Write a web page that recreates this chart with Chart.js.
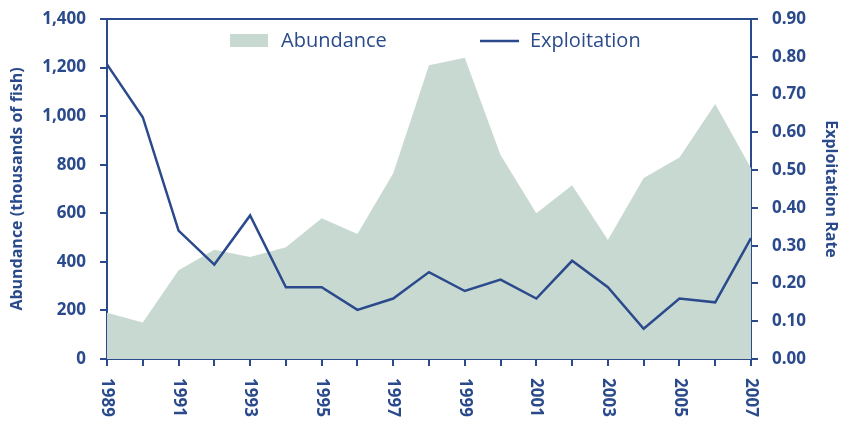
<!DOCTYPE html>
<html>
<head>
<meta charset="utf-8">
<script src="https://cdn.jsdelivr.net/npm/chart.js@4.4.1/dist/chart.umd.min.js"></script>
<style>
  html, body { margin: 0; padding: 0; background: #fff; }
  #wrap { width: 853px; height: 423px; }
</style>
</head>
<body>
<div id="wrap"><canvas id="chart"></canvas></div>
<script>
// data
const years = ['1989','1990','1991','1992','1993','1994','1995','1996','1997','1998',
               '1999','2000','2001','2002','2003','2004','2005','2006','2007'];
const abundance = [190, 150, 365, 450, 420, 460, 580, 515, 765, 1210,
                   1240, 840, 600, 715, 490, 745, 830, 1050, 785];
const exploitation = [0.78, 0.64, 0.34, 0.25, 0.38, 0.19, 0.19, 0.13, 0.16, 0.23,
                      0.18, 0.21, 0.16, 0.26, 0.19, 0.08, 0.16, 0.15, 0.32];
const yearLabels = ['1989','1991','1993','1995','1997','1999','2001','2003','2005','2007'];

const blue = '#2a4a8c';
const fillGreen = '#c8d9d2';
const font = "'Open Sans', 'DejaVu Sans', sans-serif";

// frame, rotated year labels and the in-plot legend
const extras = {
  id: 'extras',
  afterDraw(chart) {
    const ctx = chart.ctx;
    const a = chart.chartArea;
    const x = chart.scales.x;
    ctx.save();
    ctx.strokeStyle = blue;
    ctx.lineWidth = 2;
    ctx.beginPath();
    ctx.moveTo(a.left, a.top);
    ctx.lineTo(a.right, a.top);
    ctx.stroke();

    ctx.fillStyle = blue;
    ctx.font = 'bold 17px ' + font;
    ctx.textAlign = 'left';
    ctx.textBaseline = 'middle';
    yearLabels.forEach(lbl => {
      const px = x.getPixelForValue(years.indexOf(lbl));
      ctx.save();
      ctx.translate(px, a.bottom + 19);
      ctx.rotate(Math.PI / 2);
      ctx.fillText(lbl, 0, 0);
      ctx.restore();
    });

    // legend
    ctx.fillStyle = fillGreen;
    ctx.fillRect(230, 34, 38, 13);
    ctx.fillStyle = blue;
    ctx.font = '20px ' + font;
    ctx.fillText('Abundance', 281, 41);
    ctx.strokeStyle = blue;
    ctx.lineWidth = 2.5;
    ctx.beginPath();
    ctx.moveTo(480, 41);
    ctx.lineTo(519, 41);
    ctx.stroke();
    ctx.fillText('Exploitation', 530, 41);
    ctx.restore();
  }
};

new Chart(document.getElementById('chart'), {
  type: 'line',
  data: {
    labels: years,
    datasets: [
      {
        label: 'Exploitation',
        data: exploitation,
        yAxisID: 'y1',
        borderColor: blue,
        borderWidth: 2.5,
        pointRadius: 0,
        tension: 0,
        fill: false,
        order: 1
      },
      {
        label: 'Abundance',
        data: abundance,
        yAxisID: 'y',
        backgroundColor: fillGreen,
        borderWidth: 0,
        borderColor: fillGreen,
        pointRadius: 0,
        tension: 0,
        fill: 'origin',
        order: 2
      }
    ]
  },
  options: {
    responsive: true,
    maintainAspectRatio: false,
    animation: false,
    layout: { padding: { top: 19, left: 0, right: 0, bottom: 0 } },
    plugins: {
      legend: { display: false },
      tooltip: { enabled: false }
    },
    scales: {
      x: {
        type: 'category',
        offset: false,
        grid: { display: true, drawOnChartArea: false, drawTicks: true, tickLength: 7, color: blue, lineWidth: 2 },
        border: { display: true, color: blue, width: 2 },
        ticks: { display: false, autoSkip: false },
        afterFit(scale) { scale.height = 64; scale.paddingLeft = 0; scale.paddingRight = 0; }
      },
      y: {
        position: 'left',
        min: 0,
        max: 1400,
        ticks: {
          stepSize: 200,
          color: blue,
          padding: 14,
          font: { family: font, size: 17, weight: 'bold' },
          callback: v => v.toLocaleString('en-US')
        },
        grid: { display: true, drawOnChartArea: false, drawTicks: true, tickLength: 7, color: blue, lineWidth: 2 },
        border: { display: true, color: blue, width: 2 },
        title: {
          display: true,
          text: 'Abundance (thousands of fish)',
          color: blue,
          padding: { top: 8, bottom: 0 },
          font: { family: font, size: 16, weight: 'bold' }
        },
        afterFit(scale) { scale.width = 107; scale.paddingTop = 0; scale.paddingBottom = 0; }
      },
      y1: {
        position: 'right',
        min: 0,
        max: 0.9,
        ticks: {
          stepSize: 0.1,
          color: blue,
          padding: 14,
          font: { family: font, size: 17, weight: 'bold' },
          callback: v => Number(v).toFixed(2)
        },
        grid: { display: true, drawOnChartArea: false, drawTicks: true, tickLength: 7, color: blue, lineWidth: 2 },
        border: { display: true, color: blue, width: 2 },
        title: {
          display: true,
          text: 'Exploitation Rate',
          color: blue,
          padding: { top: 13, bottom: 0 },
          font: { family: font, size: 16, weight: 'bold' }
        },
        afterFit(scale) { scale.width = 102; scale.paddingTop = 0; scale.paddingBottom = 0; }
      }
    }
  },
  plugins: [extras]
});
</script>
</body>
</html>
